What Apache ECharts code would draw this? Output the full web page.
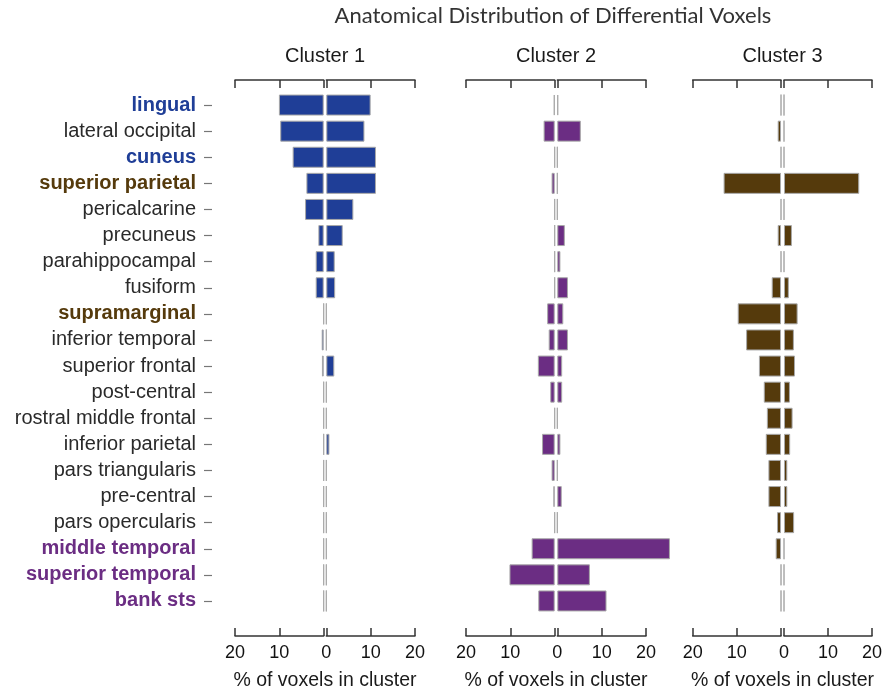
<!DOCTYPE html>
<html><head><meta charset="utf-8">
<script src="https://cdn.jsdelivr.net/npm/echarts@6/dist/echarts.min.js"></script>
<style>html,body{margin:0;padding:0;background:#fff}#c{width:885px;height:692px}</style>
</head><body><div id="c"></div>
<script>
const regions = ['lingual','lateral occipital','cuneus','superior parietal','pericalcarine','precuneus','parahippocampal','fusiform','supramarginal','inferior temporal','superior frontal','post-central','rostral middle frontal','inferior parietal','pars triangularis','pre-central','pars opercularis','middle temporal','superior temporal','bank sts'];
const clusterNames = ['Cluster 1','Cluster 2','Cluster 3'];
const tickValues = [0, 10, 20];
const c1Left  = [10.1, 9.8, 7.0, 3.9, 4.2, 1.2, 1.8, 1.8, 0, 0.45, 0.4, 0, 0, 0, 0, 0, 0, 0, 0, 0];
const c1Right = [10.0, 8.6, 11.2, 11.2, 6.1, 3.7, 1.9, 2.0, 0, 0, 1.8, 0, 0, 0.7, 0, 0, 0, 0, 0, 0];
const c2Left  = [0.2, 2.5, 0, 0.7, 0, 0, 0, 0, 1.7, 1.35, 3.8, 1.0, 0, 2.85, 0.7, 0.3, 0, 5.2, 10.2, 3.7];
const c2Right = [0.2, 5.3, 0, 0, 0, 1.7, 0.7, 2.4, 1.35, 2.4, 1.1, 1.1, 0, 0.7, 0, 1.0, 0, 25.4, 7.35, 11.1];
const c3Left  = [0, 0.75, 0, 13.0, 0, 0.75, 0, 2.1, 9.8, 7.9, 5.0, 3.9, 3.2, 3.45, 2.85, 2.85, 0.9, 1.2, 0, 0];
const c3Right = [0, 0, 0, 17.1, 0, 1.8, 0, 1.1, 3.1, 2.25, 2.5, 1.35, 1.95, 1.4, 0.75, 0.75, 2.3, 0, 0, 0];
// region -> cluster index it is highlighted for
const highlighted = {'lingual':0,'cuneus':0,'superior parietal':2,'supramarginal':2,'middle temporal':1,'superior temporal':1,'bank sts':1};

const colors = ['#1f3e97', '#6b2d83', '#553a0c'];
const seriesData = [[c1Left, c1Right], [c2Left, c2Right], [c3Left, c3Right]];
const panels = [
  {l: 235, c: 323.7, r: 326.3, e: 415},
  {l: 466, c: 554.7, r: 557.3, e: 646},
  {l: 692.7, c: 781, r: 784, e: 872.7}
];
const TOP = 92, H = 522;
const font = '"Liberation Sans", Arial, sans-serif';
const titleFont = 'Lato, "Open Sans", sans-serif';

const grid = [], xAxis = [], yAxis = [], series = [], graphic = [];
panels.forEach((p, i) => {
  [[p.l, p.c, true], [p.r, p.e, false]].forEach(([a, b, inv], h) => {
    const g = grid.length;
    grid.push({left: a, width: b - a, top: TOP, height: H});
    const base = {
      type: 'value', gridIndex: g, min: 0, max: 20, interval: 10, inverse: inv,
      splitLine: {show: false},
      axisLine: {show: true, onZero: false, lineStyle: {color: '#333', width: 1.5}},
      axisTick: {show: true, inside: true, length: 8, lineStyle: {color: '#333', width: 1.5}}
    };
    xAxis.push(Object.assign({}, base, {
      position: 'bottom', offset: 22,
      axisLabel: {show: true, margin: 8, fontSize: 18, color: '#111', fontFamily: font,
        formatter: v => (inv && v === 0) ? '' : String(v)}
    }));
    xAxis.push(Object.assign({}, base, {position: 'top', offset: 12, axisLabel: {show: false}}));
    const first = (i === 0 && h === 0);
    yAxis.push({
      type: 'category', gridIndex: g, data: regions, inverse: true, position: 'left',
      offset: first ? 23 : 0,
      axisLine: {show: false, onZero: false},
      axisTick: {show: first, length: 8, alignWithLabel: true, lineStyle: {color: '#777', width: 1.2}},
      axisLabel: {show: first, margin: 16, fontSize: 20, fontFamily: font, color: '#2a2a2a',
        formatter: v => highlighted[v] !== undefined ? '{h' + highlighted[v] + '|' + v + '}' : v,
        rich: {
          h0: {color: colors[0], fontWeight: 'bold', fontSize: 20, fontFamily: font},
          h1: {color: colors[1], fontWeight: 'bold', fontSize: 20, fontFamily: font},
          h2: {color: colors[2], fontWeight: 'bold', fontSize: 20, fontFamily: font}
        }}
    });
    series.push({
      type: 'bar', xAxisIndex: 2 * g, yAxisIndex: g, data: seriesData[i][h],
      barWidth: 21, clip: false, silent: true, animation: false,
      itemStyle: {color: colors[i], borderColor: '#a8a8a8', borderWidth: 1}
    });
  });
  const cx = (p.c + p.r) / 2;
  graphic.push({type: 'text', x: cx, y: 46, style: {text: clusterNames[i], fontSize: 20, fontFamily: font, fill: '#1a1a1a', textAlign: 'center'}});
  graphic.push({type: 'text', x: cx, y: 671, style: {text: '% of voxels in cluster', fontSize: 19.5, fontFamily: font, fill: '#1a1a1a', textAlign: 'center'}});
});
graphic.push({type: 'text', x: 553, y: 5, style: {text: 'Anatomical Distribution of Differential Voxels', fontSize: 22, fontFamily: titleFont, fill: '#333', textAlign: 'center'}});

const chart = echarts.init(document.getElementById('c'), null, {renderer: 'canvas'});
chart.setOption({animation: false, grid, xAxis, yAxis, series, graphic});
</script></body></html>
